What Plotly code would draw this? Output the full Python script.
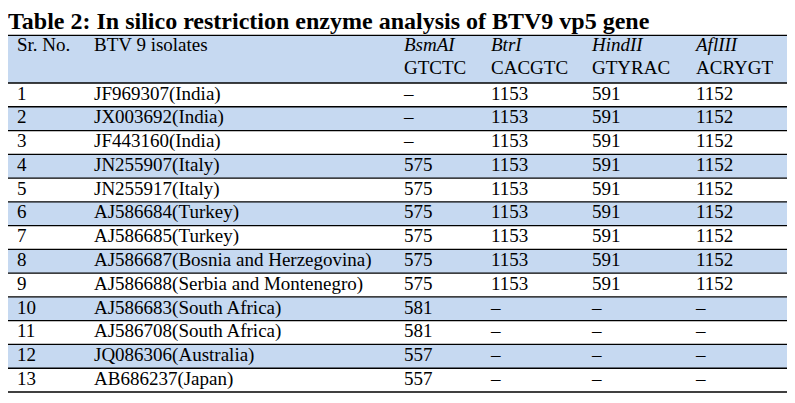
import plotly.graph_objects as go

# Table data
sr_no = ["1", "2", "3", "4", "5", "6", "7", "8", "9", "10", "11", "12", "13"]
isolates = [
    "JF969307(India)", "JX003692(India)", "JF443160(India)",
    "JN255907(Italy)", "JN255917(Italy)", "AJ586684(Turkey)",
    "AJ586685(Turkey)", "AJ586687(Bosnia and Herzegovina)",
    "AJ586688(Serbia and Montenegro)", "AJ586683(South Africa)",
    "AJ586708(South Africa)", "JQ086306(Australia)", "AB686237(Japan)",
]
bsmai = ["–", "–", "–", "575", "575", "575", "575", "575", "575", "581", "581", "557", "557"]
btri = ["1153"] * 9 + ["–"] * 4
hindii = ["591"] * 9 + ["–"] * 4
afliii = ["1152"] * 9 + ["–"] * 4

header_top = ["Sr. No.", "BTV 9 isolates", "<i>BsmAI</i>", "<i>BtrI</i>", "<i>HindII</i>", "<i>AflIII</i>"]
header_bottom = ["", "", "GTCTC", "CACGTC", "GTYRAC", "ACRYGT"]

title = "Table 2: In silico restriction enzyme analysis of BTV9 vp5 gene"

# layout constants: x in window pixels, y in row units
# (page body has an 8px margin, so the figure is shrunk and shifted to fit the window)
W, H = 795, 403
body_margin = 8
col_x = [17, 94, 404, 491, 592, 696]
table_left, table_right = 7, 787
row_px = 23.77
top_px = 83
band = "#c6d9f1"
font_family = "Liberation Serif"
body_size = 19

columns = [sr_no, isolates, bsmai, btri, hindii, afliii]
n_rows = len(sr_no)

fig = go.Figure()

# header band & alternate row bands
fig.add_shape(type="rect", xref="x", yref="y", x0=table_left, x1=table_right,
              y0=-2, y1=0, fillcolor=band, line_width=0, layer="below")
for i in range(n_rows):
    if i % 2 == 1:
        fig.add_shape(type="rect", xref="x", yref="y", x0=table_left, x1=table_right,
                      y0=i, y1=i + 1, fillcolor=band, line_width=0, layer="below")

# horizontal rules
for yb in [-2, 0] + list(range(1, n_rows + 1)):
    fig.add_shape(type="line", xref="x", yref="y", x0=table_left, x1=table_right,
                  y0=yb, y1=yb, line=dict(color="black", width=1.3))

txt_font = dict(family=font_family, size=body_size, color="black")

# header text (two lines)
fig.add_trace(go.Scatter(
    x=col_x, y=[-1.55] * len(col_x), text=header_top, mode="text",
    textposition="middle right", textfont=txt_font,
    hoverinfo="skip", showlegend=False,
))
fig.add_trace(go.Scatter(
    x=col_x, y=[-0.58] * len(col_x), text=header_bottom, mode="text",
    textposition="middle right", textfont=txt_font,
    hoverinfo="skip", showlegend=False,
))

# body text
for cx, col in zip(col_x, columns):
    fig.add_trace(go.Scatter(
        x=[cx] * n_rows, y=[i + 0.5 for i in range(n_rows)], text=col, mode="text",
        textposition="middle right", textfont=txt_font,
        hoverinfo="skip", showlegend=False,
    ))

fig_w = W - body_margin
fig_h = H - body_margin
y_top = (body_margin - top_px) / row_px
y_bot = (H - top_px) / row_px

fig.update_layout(
    title=dict(text="<b>" + title + "</b>", x=0, xanchor="left", xref="paper",
               y=1 - (21 - body_margin) / fig_h, yanchor="middle", yref="paper",
               font=dict(family=font_family, size=24, color="black")),
    width=fig_w, height=fig_h,
    margin=dict(l=0, r=0, t=0, b=0),
    plot_bgcolor="white", paper_bgcolor="white",
    xaxis=dict(range=[body_margin, W], visible=False, fixedrange=True),
    yaxis=dict(range=[y_bot, y_top], visible=False, fixedrange=True),
)

fig.write_html("out.html")
